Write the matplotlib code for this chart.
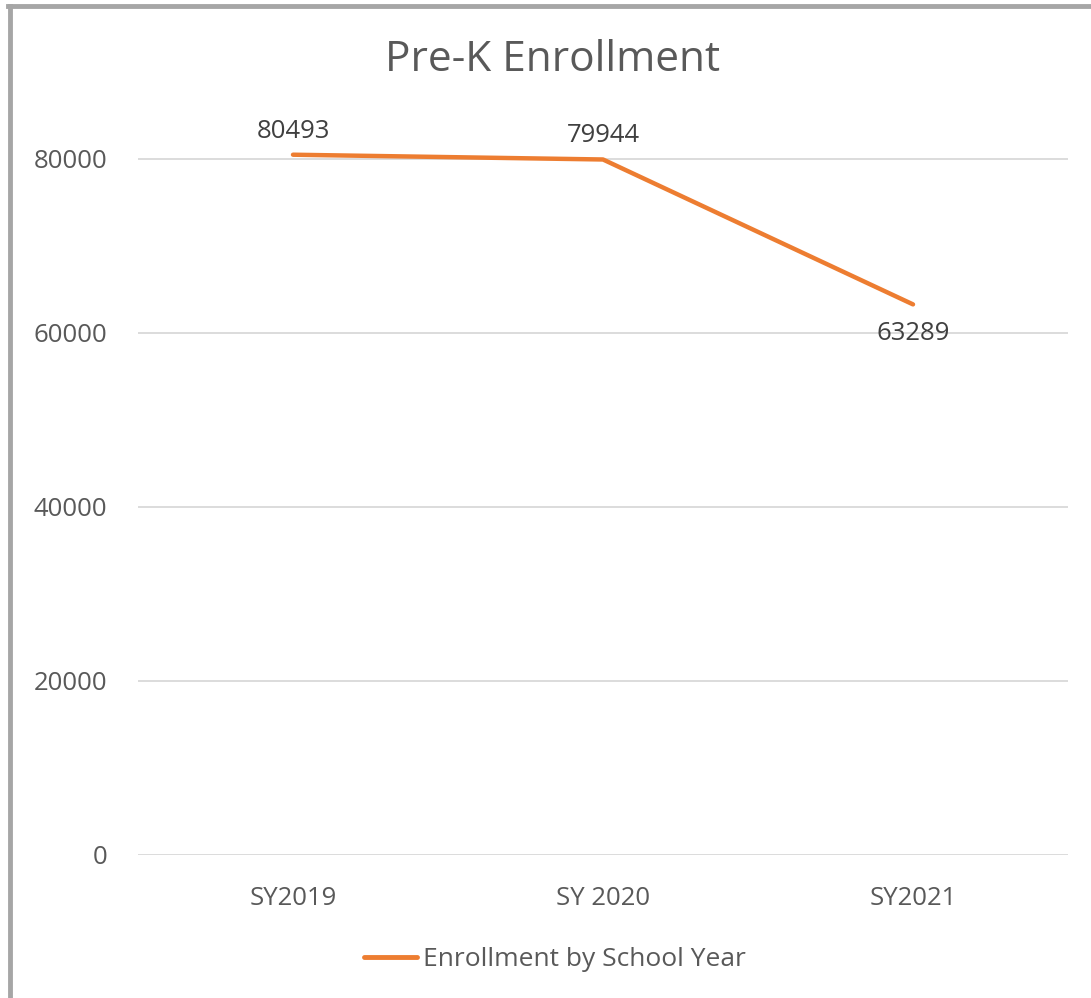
import matplotlib.pyplot as plt
from matplotlib.lines import Line2D

years = ["SY2019", "SY 2020", "SY2021"]
enrollment = [80493, 79944, 63289]
label_pos = ["above", "above", "below"]

plt.rcParams['font.family'] = ['Open Sans', 'DejaVu Sans']
txt = "#595959"
orange = "#ED7D31"

fig = plt.figure(figsize=(10.91, 9.98), dpi=100)
ax = fig.add_axes([138/1091, 1 - 855/998, 930/1091, (855 - 72)/998])

x = list(range(len(years)))
ax.plot(x, enrollment, color=orange, linewidth=3.2, solid_capstyle='round',
        label="Enrollment by School Year")

for xi, v, pos in zip(x, enrollment, label_pos):
    dy = 17 if pos == "above" else -21
    ax.annotate(str(v), (xi, v), xytext=(0, dy), textcoords='offset points',
                ha='center', va='center', fontsize=18.5, color="#404040")

ax.set_xlim(-0.5, 2.5)
ax.set_ylim(0, 90000)
ax.set_yticks([0, 20000, 40000, 60000, 80000])
ax.set_xticks(x)
ax.set_xticklabels(years)
ax.tick_params(axis='both', length=0, labelsize=18.5, labelcolor=txt)
ax.tick_params(axis='y', pad=22)
ax.tick_params(axis='x', pad=22)
ax.grid(axis='y', color="#D9D9D9", linewidth=1.3)
ax.set_axisbelow(True)
for s in ax.spines.values():
    s.set_visible(False)

fig.text(553/1091, 1 - 60/998, "Pre-K Enrollment", ha='center', va='center',
         fontsize=30.5, color=txt)

handle = Line2D([], [], color=orange, linewidth=3.5, solid_capstyle='round')
fig.legend([handle], ["Enrollment by School Year"], loc='center',
           bbox_to_anchor=(555/1091, 1 - 960/998), frameon=False, fontsize=19,
           labelcolor=txt, handlelength=2.0, handletextpad=0.25)

# outer border (cut off at right and bottom)
fig.add_artist(Line2D([10/1091, 10/1091], [0, 1 - 6/998], color="#A6A6A6", linewidth=3.5))
fig.add_artist(Line2D([8/1091, 1], [1 - 6/998, 1 - 6/998], color="#A6A6A6", linewidth=3.5))

fig.savefig("out.png", dpi=100)
